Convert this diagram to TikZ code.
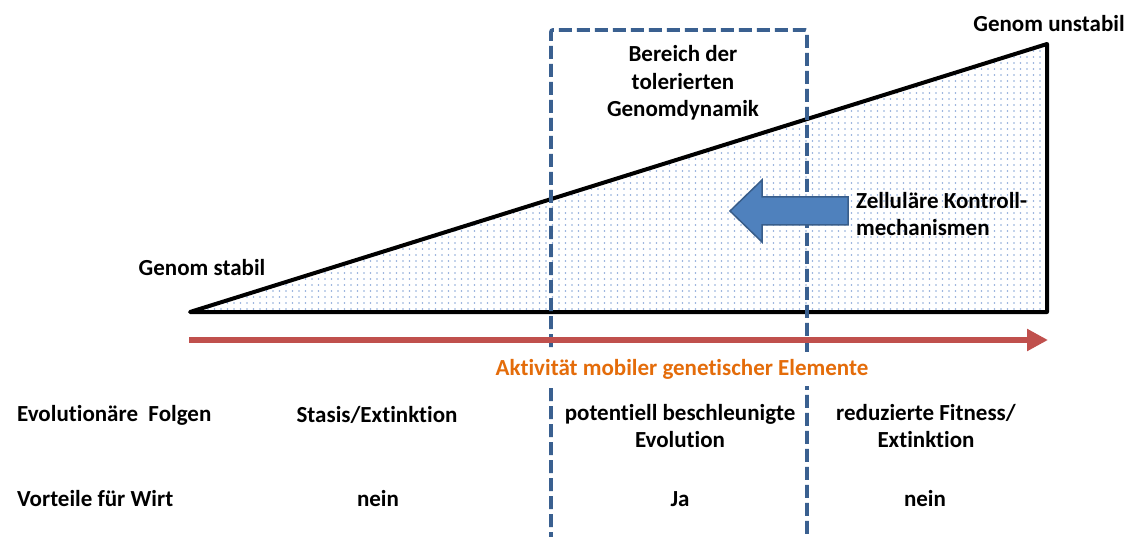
\documentclass[tikz,border=0pt]{standalone}
\usepackage{fontspec}
\setmainfont[Ligatures={NoCommon}]{Carlito}
\usetikzlibrary{patterns.meta,arrows.meta}
\definecolor{dashblue}{HTML}{3A6090}
\definecolor{arrowfill}{HTML}{4F81BD}
\definecolor{arrowline}{HTML}{385D8A}
\definecolor{axisred}{HTML}{C0504D}
\definecolor{axisorange}{HTML}{E46C0A}
\definecolor{dotblue}{HTML}{8AA8D8}
\tikzdeclarepattern{
  name=finedots, type=uncolored,
  bottom left={(-1pt,-1pt)}, top right={(5.5pt,5pt)},
  tile size={(6.5pt,6pt)},
  code={\fill (0pt,0pt) circle (0.8pt);}
}
\tikzset{
  lbl/.style={font=\fontsize{23}{27.5}\selectfont\bfseries, inner sep=0pt, align=center},
  lbll/.style={lbl, anchor=west, align=left},
}
\begin{document}
\begin{tikzpicture}[x=1pt,y=-1pt]
\useasboundingbox (0,0) rectangle (1131,537);

% wedge of increasing genome dynamics
\coordinate (L) at (190,312);
\coordinate (R) at (1047,312);
\coordinate (T) at (1047,44);
\fill[white] (L) -- (T) -- (R) -- cycle;
\fill[pattern=finedots, pattern color=dotblue] (L) -- (T) -- (R) -- cycle;
\draw[line width=4pt, line join=round] (L) -- (T) -- (R) -- cycle;

% tolerated range
\coordinate (B1) at (551,545);
\coordinate (B2) at (551,30);
\coordinate (B3) at (807,30);
\coordinate (B4) at (807,545);
\draw[dashblue, line width=3.8pt, dash pattern=on 13pt off 5pt, rounded corners=2pt]
  (B1) -- (B2) -- (B3) -- (B4);

% activity axis
\coordinate (A0) at (189,340);
\coordinate (A1) at (1048,340);
\draw[axisred, line width=6.5pt, -{Triangle[length=21pt,width=21pt]}] (A0) -- (A1);

% cellular control arrow
\fill[arrowfill, draw=arrowline, line width=1.5pt, line join=miter]
  (730,211) -- (762,180) -- (762,197) -- (848,197) -- (848,225)
  -- (762,225) -- (762,242) -- cycle;

% labels
\node[lbl] (gu) at (1049,24) {Genom unstabil};
\node[lbl] (gs) at (202,268) {Genom stabil};
\node[lbl] (br) at (683,83) {Bereich der\\tolerierten\\Genomdynamik};
\node[lbll] (zk) at (856,214) {Zelluläre Kontroll-\\mechanismen};
\node[lbl, text=axisorange, fill=white, inner xsep=6pt, inner ysep=7pt] (ax) at (682,369)
  {Aktivität mobiler genetischer Elemente};

\node[lbll] (ef) at (17,415) {Evolutionäre\ \ Folgen};
\node[lbl] (c1) at (377,415) {Stasis/Extinktion};
\node[lbl, anchor=north] (c2) at (680,404) {potentiell beschleunigte\\Evolution};
\node[lbl, anchor=north] (c3) at (926,404) {reduzierte Fitness/\\Extinktion};

\node[lbll] (vw) at (17,499) {Vorteile für Wirt};
\node[lbl] (v1) at (378,499) {nein};
\node[lbl] (v2) at (680,499) {Ja};
\node[lbl] (v3) at (925,499) {nein};
\end{tikzpicture}
\end{document}
